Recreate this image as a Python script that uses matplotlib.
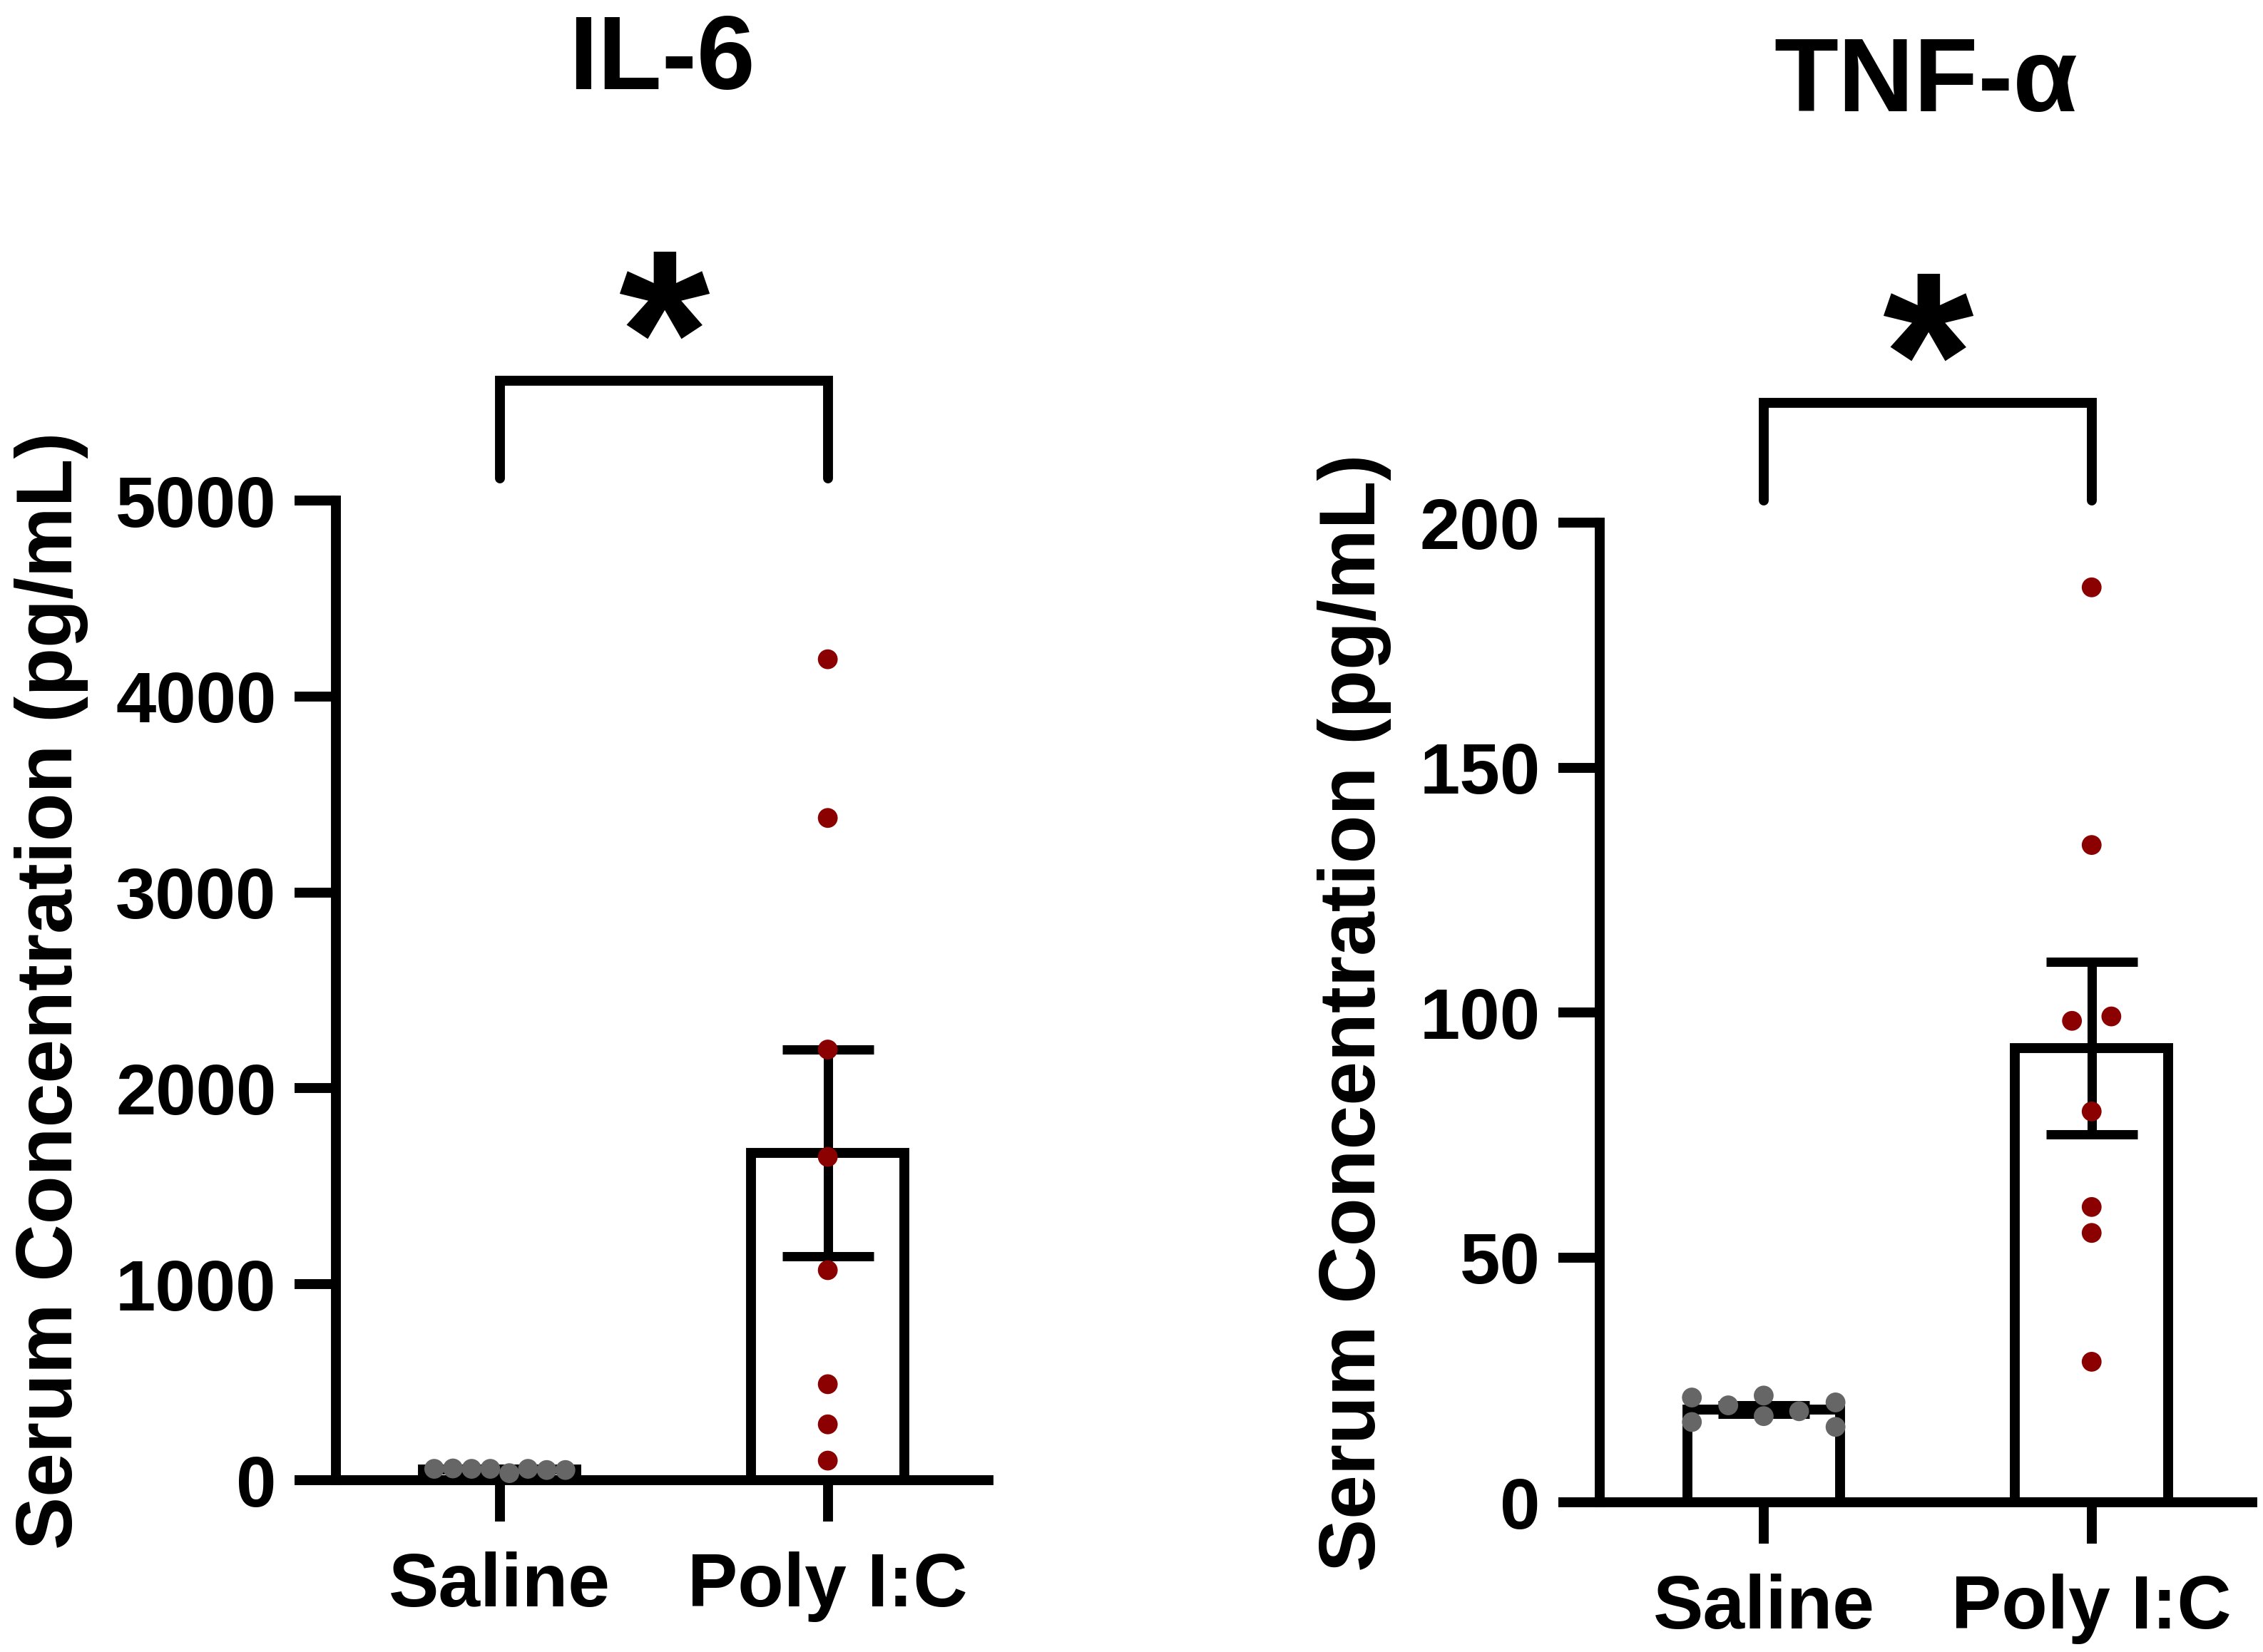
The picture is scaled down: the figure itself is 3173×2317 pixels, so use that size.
import numpy as np
import matplotlib
matplotlib.use('Agg')
import matplotlib.pyplot as plt
import matplotlib.transforms as mtransforms

plt.rcParams['font.family'] = ['Liberation Sans', 'DejaVu Sans']
plt.rcParams['font.weight'] = 'bold'

# Data (pg/mL)
groups = ['Saline', 'Poly I:C']

il6_saline = [58, 60, 58, 58, 36, 58, 52, 52]
il6_polyic = [4190, 3380, 2198, 1650, 1072, 490, 285, 100]

tnf_saline = [21.4, 16.4, 19.8, 21.8, 17.6, 18.6, 20.4, 15.4]
tnf_polyic = [186.8, 134.2, 98.3, 99.2, 79.8, 60.3, 55.0, 28.7]

il6_ticks = [0, 1000, 2000, 3000, 4000, 5000]
tnf_ticks = [0, 50, 100, 150, 200]

# horizontal spread of the dots (layout only)
il6_saline_dx = [-0.2, -0.143, -0.086, -0.029, 0.029, 0.086, 0.143, 0.2]
il6_polyic_dx = [0, 0, 0, 0, 0, 0, 0, 0]
tnf_saline_dx = [-0.219, -0.219, -0.108, 0, 0, 0.108, 0.219, 0.219]
tnf_polyic_dx = [0, 0, -0.06, 0.06, 0, 0, 0, 0]

GREY = '#666666'
RED = '#8B0000'
LW = 5


def panel(ax, saline, polyic, saline_dx, polyic_dx, ticks, title, label_x):
    data = [np.array(saline, float), np.array(polyic, float)]
    means = [d.mean() for d in data]
    sems = [d.std(ddof=1) / np.sqrt(len(d)) for d in data]
    xs = np.arange(len(groups))

    ax.bar(xs, means, width=0.467, color='white', edgecolor='black',
           linewidth=LW, zorder=2)
    ax.errorbar(xs, means, yerr=sems, fmt='none', ecolor='black',
                elinewidth=4.7, capsize=23, capthick=4.7, zorder=3)

    for i, (d, dx, col) in enumerate(zip(data, [saline_dx, polyic_dx], [GREY, RED])):
        ax.scatter(i + np.array(dx), d, s=100, color=col, edgecolors='none',
                   zorder=4, clip_on=False)

    ax.set_xlim(-0.5, 1.49)
    ax.set_ylim(ticks[0], ticks[-1])
    ax.set_yticks(ticks)
    ax.set_xticks(xs)
    ax.set_xticklabels(groups)

    for s in ['top', 'right']:
        ax.spines[s].set_visible(False)
    for s in ['left', 'bottom']:
        ax.spines[s].set_linewidth(LW)

    ax.tick_params(axis='both', direction='out', length=21, width=LW)
    ax.tick_params(axis='y', pad=9, labelsize=36.5)
    ax.tick_params(axis='x', pad=15, labelsize=38)

    ax.set_ylabel('Serum Concentration (pg/mL)', fontsize=40, fontweight='bold')
    ax.yaxis.set_label_coords(label_x, 0.5)

    ax.text(0.5, 1.42, title, transform=ax.transAxes, ha='center',
            va='baseline', fontsize=53, fontweight='bold')

    # significance bracket
    trans = mtransforms.blended_transform_factory(ax.transData, ax.transAxes)
    ax.plot([0, 0, 1, 1], [1.0226, 1.122, 1.122, 1.0226], transform=trans,
            color='black', lw=LW, clip_on=False, solid_capstyle='round',
            solid_joinstyle='miter')
    ax.text(0.5, 1.09, '*', transform=trans, ha='center', va='baseline',
            fontsize=118, fontweight='bold')


fig = plt.figure(figsize=(15.865, 11.585), dpi=200)
ax1 = fig.add_axes([0.1484, 0.1040, 0.2884, 0.5930])
ax2 = fig.add_axes([0.7069, 0.0906, 0.2884, 0.5930])

panel(ax1, il6_saline, il6_polyic, il6_saline_dx, il6_polyic_dx,
      il6_ticks, 'IL-6', -0.379)
panel(ax2, tnf_saline, tnf_polyic, tnf_saline_dx, tnf_polyic_dx,
      tnf_ticks, 'TNF-α', -0.319)

fig.savefig('out.png', dpi=200)
